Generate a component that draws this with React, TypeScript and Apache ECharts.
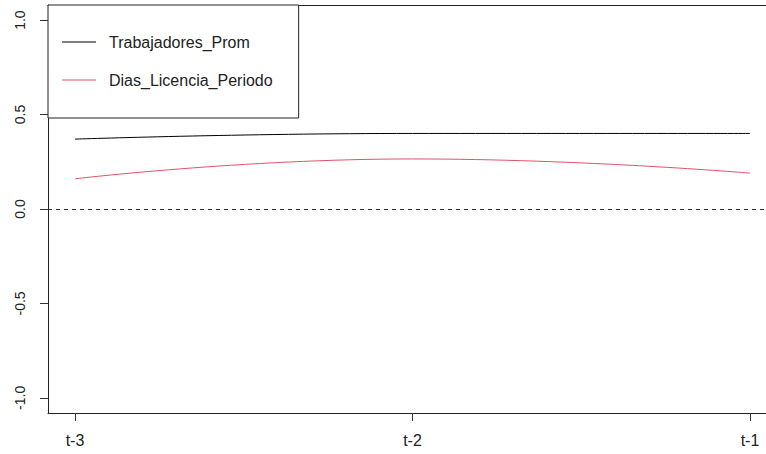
import React, { useEffect, useRef } from "react";
import * as echarts from "echarts";

const categories = ["t-3", "t-2", "t-1"];
const xPositions = [1, 2, 3];
const trabajadoresProm = [0.37, 0.40, 0.40];
const diasLicenciaPeriodo = [0.16, 0.265, 0.19];
const yTicks = [-1, -0.5, 0, 0.5, 1];
const seriesNames = ["Trabajadores_Prom", "Dias_Licencia_Periodo"];

const FONT = "'Liberation Sans', Arial, sans-serif";
const LINE_ICON = "path://M0,0 L0,0 M0,7.5 L34,7.5 L34,8.5 L0,8.5 Z M34,16 L34,16";

export default function App() {
  const ref = useRef<HTMLDivElement>(null);
  useEffect(() => {
    if (!ref.current) return;
    const chart = echarts.init(ref.current, null, { renderer: "svg" });
    const toPairs = (vals: number[]) => vals.map((v, i) => [xPositions[i], v]);
    const xMin = 0.92;
    const xMax = 3.0475;
    chart.setOption({
      animation: false,
      backgroundColor: "#ffffff",
      textStyle: { fontFamily: FONT },
      grid: {
        left: 48,
        top: 5,
        right: 0,
        bottom: 41,
        show: false,
      },
      legend: {
        orient: "vertical",
        left: 48,
        top: 5,
        data: seriesNames.map((n) => ({ name: n, icon: LINE_ICON })),
        backgroundColor: "#fff",
        borderColor: "#222",
        borderWidth: 1,
        borderRadius: 0,
        padding: [29, 26, 30, 14],
        itemWidth: 34,
        itemHeight: 16,
        itemGap: 22,
        itemStyle: { borderWidth: 0 },
        textStyle: {
          fontFamily: FONT,
          fontSize: 16,
          lineHeight: 16,
          color: "#222",
          padding: [0, 0, 0, 8],
        },
      },
      xAxis: [
        {
          type: "value",
          min: xMin,
          max: xMax,
          position: "bottom",
          axisLine: { show: true, onZero: false, lineStyle: { color: "#222", width: 1 } },
          splitLine: { show: false },
          axisTick: {
            show: true,
            length: 8,
            inside: false,
            customValues: xPositions,
            lineStyle: { color: "#333", width: 1 },
          },
          axisLabel: {
            customValues: xPositions,
            margin: 19,
            fontFamily: FONT,
            fontSize: 16,
            color: "#222",
            formatter: (v: number) => categories[Math.round(v) - 1] ?? "",
          },
        },
        {
          type: "value",
          min: xMin,
          max: xMax,
          position: "top",
          axisLine: { show: true, onZero: false, lineStyle: { color: "#222", width: 1 } },
          splitLine: { show: false },
          axisTick: { show: false },
          axisLabel: { show: false },
        },
      ],
      yAxis: {
        type: "value",
        min: -1.08,
        max: 1.08,
        axisLine: { show: true, onZero: false, lineStyle: { color: "#222", width: 1 } },
        splitLine: { show: false },
        axisTick: {
          show: true,
          length: 8,
          customValues: yTicks,
          lineStyle: { color: "#333", width: 1 },
        },
        axisLabel: {
          customValues: yTicks,
          rotate: 90,
          margin: 21,
          fontFamily: FONT,
          fontSize: 14,
          color: "#222",
          formatter: (v: number) => v.toFixed(1),
        },
      },
      series: [
        {
          name: seriesNames[0],
          type: "line",
          data: toPairs(trabajadoresProm),
          smooth: 0.5,
          symbol: "none",
          lineStyle: { color: "#000", width: 1 },
          itemStyle: { color: "#000" },
          markLine: {
            silent: true,
            symbol: "none",
            label: { show: false },
            lineStyle: { color: "#333", type: [4, 4], width: 1 },
            data: [{ yAxis: 0 }],
          },
        },
        {
          name: seriesNames[1],
          type: "line",
          data: toPairs(diasLicenciaPeriodo),
          smooth: 0.5,
          symbol: "none",
          lineStyle: { color: "#DF536B", width: 1 },
          itemStyle: { color: "#DF536B" },
        },
      ],
    });
    return () => chart.dispose();
  }, []);
  return <div ref={ref} style={{ width: 766, height: 454, position: "absolute", left: 0, top: 0 }} />;
}
